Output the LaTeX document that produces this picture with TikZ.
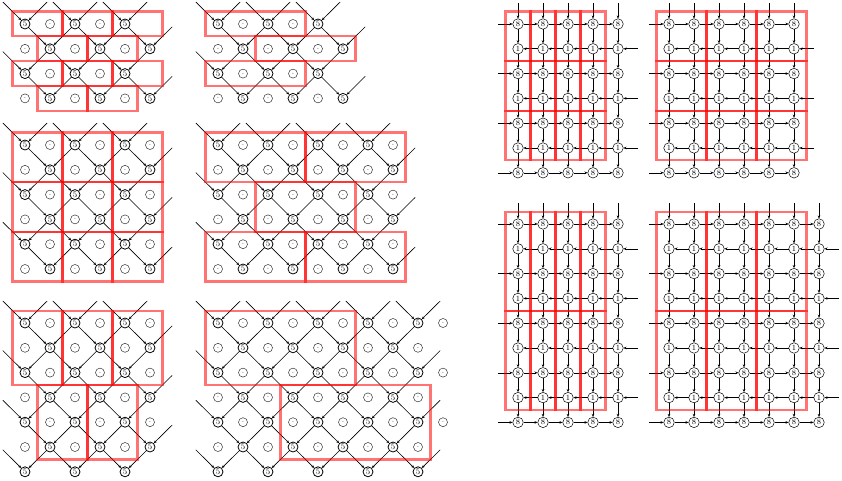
\documentclass[tikz,border=0pt]{standalone}
\usepackage{tikz}
\usetikzlibrary{arrows.meta}
\tikzset{
    five/.style ={circle, draw=black, line width=0.8pt, minimum size=10pt, inner sep=0pt, font=\fontsize{8.5}{8.5}\selectfont},
    blank/.style={circle, draw=black!80, line width=0.5pt, minimum size=9pt, inner sep=0pt, font=\fontsize{4}{4}\selectfont},
    cell/.style ={circle, draw=black, line width=0.5pt, minimum size=10.5pt, inner sep=0pt, font=\fontsize{8}{8}\selectfont},
    link/.style ={-{Stealth[length=3pt, width=2.6pt]}, line width=0.6pt},
    tile/.style ={draw=red, draw opacity=0.55, line width=2.2pt},
}
% #1 name, #2 x0, #3 y0, #4 last col of 5s, #5 last row of 5s, #6 last col of blanks, #7 last row of blanks
\newcommand{\diagpanel}[7]{%
  \foreach \r in {0,...,#7}{
    \foreach \c in {0,...,#6}{
      \pgfmathtruncatemacro{\odd}{mod(\c+\r,2)}
      \ifnum\odd=1
        \node[blank] (#1-\c-\r) at ({#2+25*\c},{#3+24.8*\r}) {-};
      \fi
    }
  }
  \foreach \r in {0,...,#5}{
    \foreach \c in {0,...,#4}{
      \pgfmathtruncatemacro{\odd}{mod(\c+\r,2)}
      \ifnum\odd=0
        \node[five] (#1-\c-\r) at ({#2+25*\c},{#3+24.8*\r}) {5};
      \fi
    }
  }
  \foreach \r in {0,...,#5}{
    \foreach \c in {0,...,#4}{
      \pgfmathtruncatemacro{\odd}{mod(\c+\r,2)}
      \ifnum\odd=0
        \pgfmathtruncatemacro{\pr}{\r-1}
        \foreach \dc/\side in {-1/l,1/r}{
          \pgfmathtruncatemacro{\pc}{\c+\dc}
          \pgfmathtruncatemacro{\inside}{(\pr>=0)&&(\pc>=0)&&(\pc<=#4)}
          \ifnum\inside=1
            \draw[link] (#1-\pc-\pr) -- (#1-\c-\r);
          \else
            \coordinate (#1-\c-\r\side) at ({#2+25*\c+25*\dc},{#3+24.8*\r-24.8});
            \draw[link, shorten <=4pt] (#1-\c-\r\side) -- (#1-\c-\r);
          \fi
        }
      \fi
    }
  }
}
% #1 name, #2 x0, #3 y0, #4 last col, #5 last row
\newcommand{\gridpanel}[5]{%
  \foreach \r in {0,...,#5}{
    \foreach \c in {0,...,#4}{
      \pgfmathtruncatemacro{\odd}{mod(\r,2)}
      \ifnum\odd=0
        \node[cell] (#1-\c-\r) at ({#2+25*\c},{#3+24.8*\r}) {8};
      \else
        \node[cell] (#1-\c-\r) at ({#2+25*\c},{#3+24.8*\r}) {1};
      \fi
    }
  }
  \foreach \c in {0,...,#4}{
    \coordinate (#1-\c-top) at ({#2+25*\c},{#3-24.8});
    \draw[link, shorten <=4pt] (#1-\c-top) -- (#1-\c-0);
    \foreach \r [count=\pr from 0] in {1,...,#5}
      \draw[link] (#1-\c-\pr) -- (#1-\c-\r);
  }
  \foreach \r in {0,...,#5}{
    \pgfmathtruncatemacro{\odd}{mod(\r,2)}
    \ifnum\odd=0
      \coordinate (#1-\r-in) at ({#2-25},{#3+24.8*\r});
      \draw[link, shorten <=5pt] (#1-\r-in) -- (#1-0-\r);
      \foreach \c [count=\pc from 0] in {1,...,#4}
        \draw[link] (#1-\pc-\r) -- (#1-\c-\r);
    \else
      \coordinate (#1-\r-in) at ({#2+25*#4+25},{#3+24.8*\r});
      \draw[link, shorten <=5pt] (#1-\r-in) -- (#1-#4-\r);
      \foreach \c [count=\pc from 0] in {1,...,#4}
        \draw[link] (#1-\c-\r) -- (#1-\pc-\r);
    \fi
  }
}
% #1 x0, #2 y0, #3 list of col/row/col/row
\newcommand{\redtiles}[3]{%
  \foreach \ca/\ra/\cb/\rb in {#3}
    \draw[tile] ({#1+25*\ca-12.5},{#2+24.8*\ra-12.4}) rectangle ({#1+25*\cb+12.5},{#2+24.8*\rb+12.4});
}

\begin{document}
\begin{tikzpicture}[x=1pt, y=-1pt]
    \useasboundingbox (0,0) rectangle (842,481);

    \diagpanel{A}{25}{24}{5}{3}{4}{3}
    \redtiles{25}{24}{0/0/1/0, 2/0/3/0, 4/0/5/0, 1/1/2/1, 3/1/4/1, 0/2/1/2, 2/2/3/2, 4/2/5/2, 1/3/2/3, 3/3/4/3}

    \diagpanel{B}{218}{24}{5}{3}{4}{3}
    \redtiles{218}{24}{0/0/3/0, 2/1/5/1, 0/2/3/2}

    \diagpanel{C}{25}{145}{5}{5}{5}{5}
    \redtiles{25}{145}{0/0/1/1, 2/0/3/1, 4/0/5/1, 0/2/1/3, 2/2/3/3, 4/2/5/3, 0/4/1/5, 2/4/3/5, 4/4/5/5}

    \diagpanel{D}{218}{145}{7}{5}{7}{5}
    \redtiles{218}{145}{0/0/3/1, 4/0/7/1, 2/2/5/3, 0/4/3/5, 4/4/7/5}

    \diagpanel{E}{25}{323}{5}{6}{5}{5}
    \redtiles{25}{323}{0/0/1/2, 2/0/3/2, 4/0/5/2, 1/3/2/5, 3/3/4/5}

    \diagpanel{F}{218}{323}{8}{6}{9}{5}
    \redtiles{218}{323}{0/0/5/2, 3/3/8/5}

    \gridpanel{G}{518}{24}{4}{6}
    \redtiles{518}{24}{0/0/0/1, 1/0/1/1, 2/0/2/1, 3/0/3/1, 0/2/0/3, 1/2/1/3, 2/2/2/3, 3/2/3/3, 0/4/0/5, 1/4/1/5, 2/4/2/5, 3/4/3/5}

    \gridpanel{H}{669}{24}{5}{6}
    \redtiles{669}{24}{0/0/1/1, 2/0/3/1, 4/0/5/1, 0/2/1/3, 2/2/3/3, 4/2/5/3, 0/4/1/5, 2/4/3/5, 4/4/5/5}

    \gridpanel{I}{518}{224}{4}{8}
    \redtiles{518}{224}{0/0/0/3, 1/0/1/3, 2/0/2/3, 3/0/3/3, 0/4/0/7, 1/4/1/7, 2/4/2/7, 3/4/3/7}

    \gridpanel{J}{669}{224}{6}{8}
    \redtiles{669}{224}{0/0/1/3, 2/0/3/3, 4/0/5/3, 0/4/1/7, 2/4/3/7, 4/4/5/7}
\end{tikzpicture}
\end{document}
